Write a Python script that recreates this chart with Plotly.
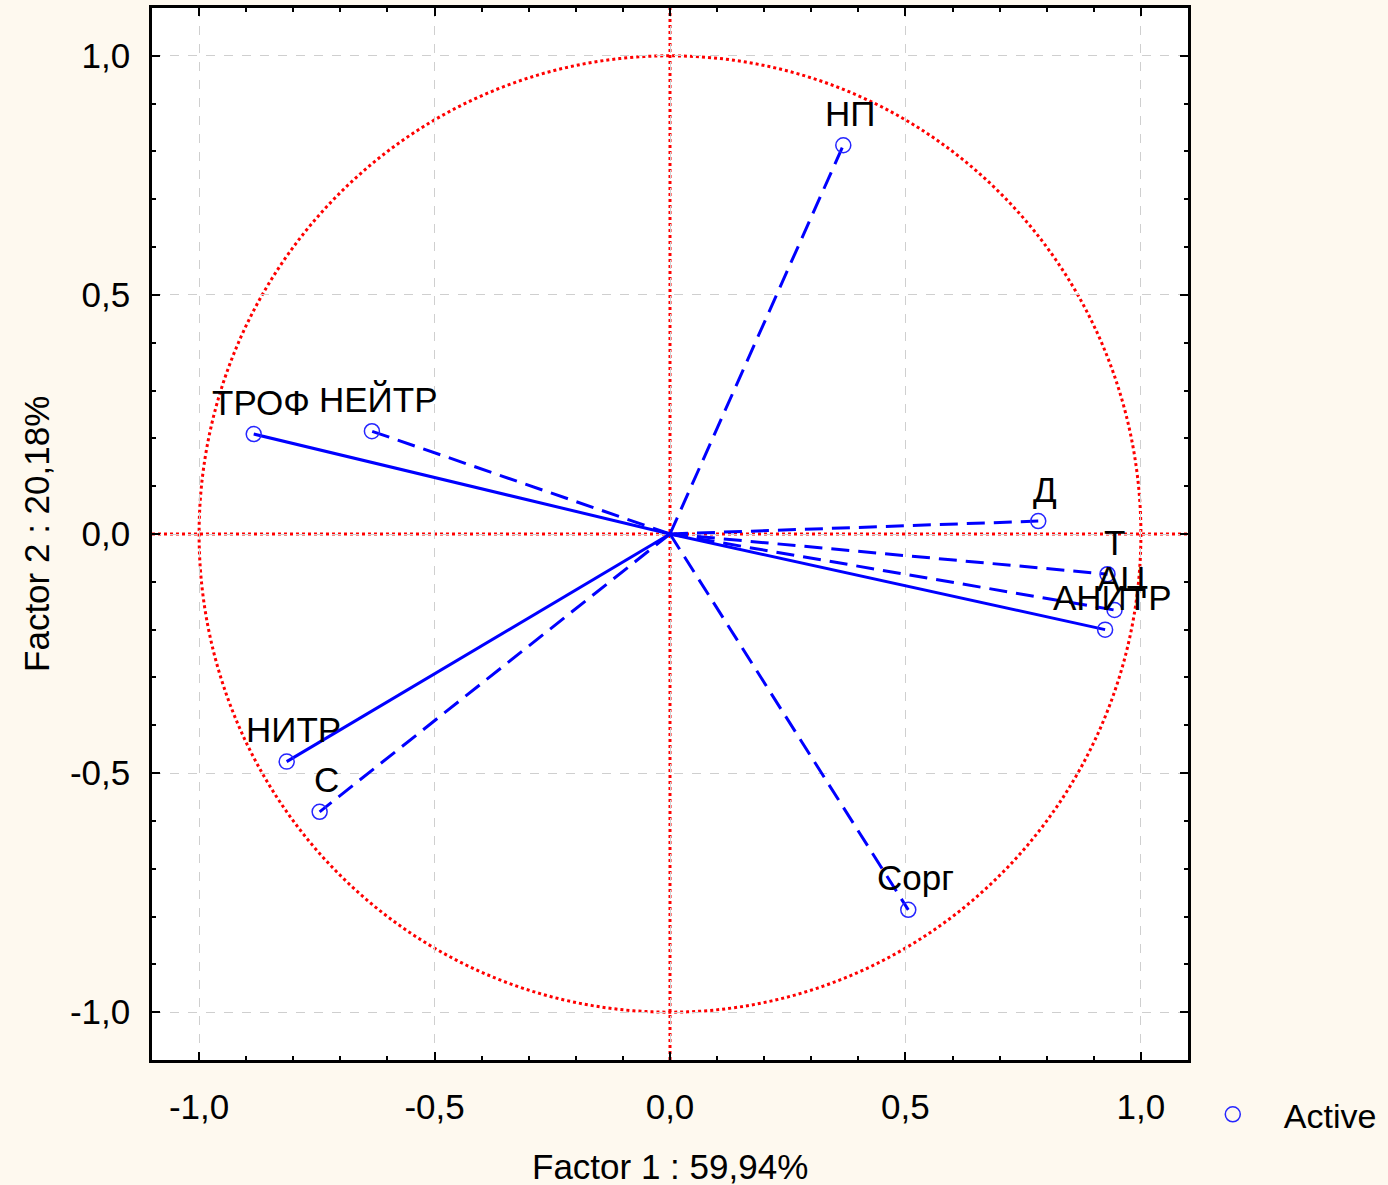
import plotly.graph_objects as go

# Factor loadings (Factor 1, Factor 2)
names = ["НП", "ТРОФ", "НЕЙТР", "Д", "Т", "АЦ", "АНИТР", "НИТР", "С", "Сорг"]
f1 = [0.368, -0.884, -0.633, 0.782, 0.929, 0.944, 0.924, -0.814, -0.744, 0.506]
f2 = [0.813, 0.209, 0.215, 0.027, -0.084, -0.159, -0.200, -0.476, -0.581, -0.786]
line_style = ["dash", "solid", "dash", "dash", "dash", "dash", "solid", "solid", "dash", "dash"]

tick_vals = [-1.0, -0.5, 0.0, 0.5, 1.0]
tick_text = ["-1,0", "-0,5", "0,0", "0,5", "1,0"]

FONT = "Liberation Sans, Arial, sans-serif"
BLUE = "#0000FF"
FS = 35

fig = go.Figure()

for n, x, y, st in zip(names, f1, f2, line_style):
    fig.add_trace(go.Scatter(
        x=[0, x], y=[0, y], mode="lines",
        line=dict(color=BLUE, width=3, dash=("18px,9px" if st == "dash" else "solid")),
        showlegend=False, hoverinfo="skip"))

fig.add_trace(go.Scatter(
    x=f1, y=f2, mode="markers", name="Active",
    marker=dict(symbol="circle-open", size=15, color="#2626FF", line=dict(width=1.5)),
    showlegend=True))

for n, x, y in zip(names, f1, f2):
    fig.add_annotation(x=x, y=y, text=n, showarrow=False, xshift=7, yshift=32,
                       font=dict(family=FONT, size=FS, color="black"))

# unit circle and zero lines
fig.add_shape(type="circle", xref="x", yref="y", x0=-1, y0=-1, x1=1, y1=1,
              line=dict(color="#FF0000", width=3, dash="dot"), layer="below")
fig.add_shape(type="line", xref="paper", yref="y", x0=0, x1=1, y0=0, y1=0,
              line=dict(color="#FF0000", width=3, dash="dot"), layer="below")
fig.add_shape(type="line", xref="x", yref="paper", x0=0, x1=0, y0=0, y1=1,
              line=dict(color="#FF0000", width=3, dash="dot"), layer="below")

axis_common = dict(
    tickvals=tick_vals, ticktext=tick_text,
    ticks="inside", ticklen=8, tickwidth=2, tickcolor="black",
    minor=dict(ticks="inside", ticklen=4, tickwidth=2, tickcolor="black", dtick=0.1,
               showgrid=False),
    showline=True, linewidth=2.5, linecolor="black", mirror="allticks",
    showgrid=True, gridcolor="#CFCFCF", gridwidth=1, griddash="dash",
    zeroline=False,
    tickfont=dict(family=FONT, size=FS, color="black"),
)

fig.update_xaxes(range=[-1.1, 1.1], ticklabelstandoff=14, **axis_common)
fig.update_yaxes(range=[-1.1, 1.1], ticklabelstandoff=12, **axis_common)

fig.add_annotation(xref="paper", yref="paper", x=0.5, y=-0.101, yanchor="middle",
                   text="Factor 1 : 59,94%", showarrow=False,
                   font=dict(family=FONT, size=FS, color="black"))
fig.add_annotation(xref="paper", yref="paper", x=-0.112, y=0.5, xanchor="center",
                   yanchor="middle", textangle=-90,
                   text="Factor 2 : 20,18%", showarrow=False,
                   font=dict(family=FONT, size=FS, color="black"))

fig.update_layout(
    width=1388, height=1185,
    margin=dict(l=152, r=200, t=8, b=125, autoexpand=False),
    paper_bgcolor="#FEF9EF", plot_bgcolor="white",
    font=dict(family=FONT, size=FS, color="black"),
    legend=dict(x=0.994, y=-0.052, xanchor="left", yanchor="middle",
                bgcolor="rgba(0,0,0,0)", font=dict(family=FONT, size=34),
                itemwidth=92),
)

fig.write_html("out.html")
